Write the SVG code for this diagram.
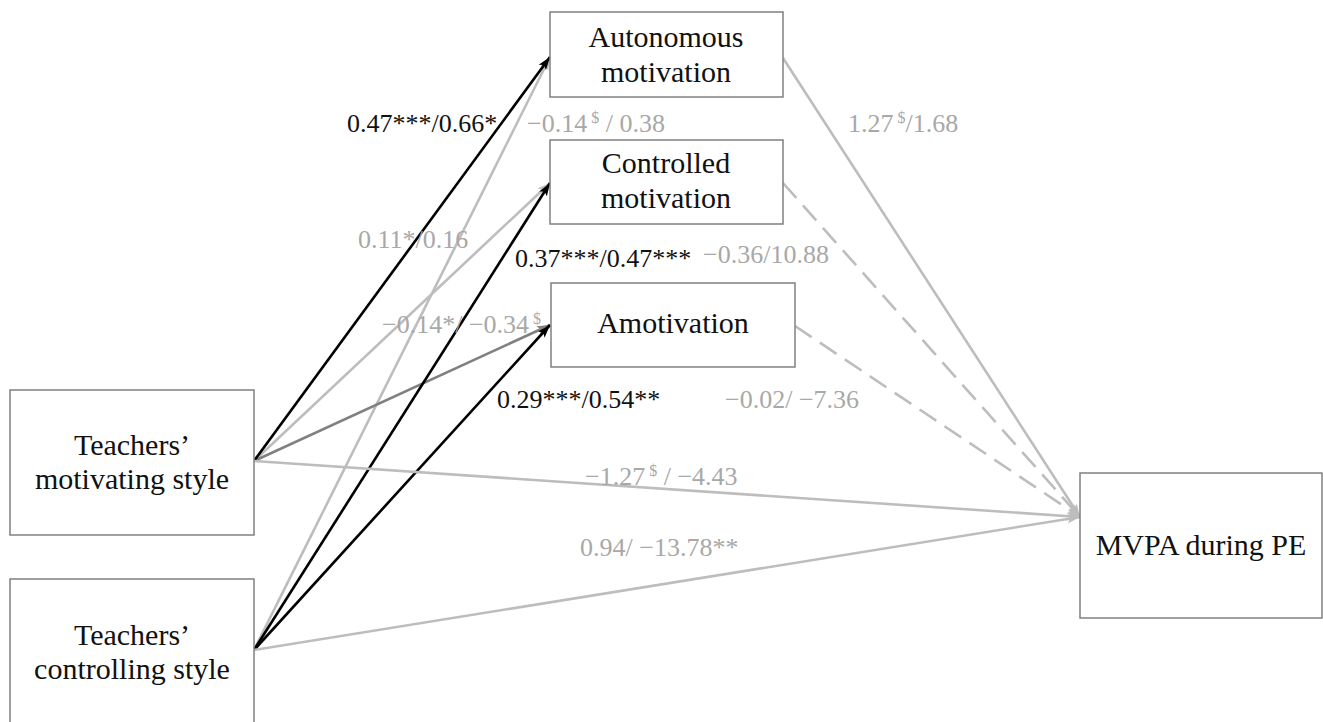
<svg xmlns="http://www.w3.org/2000/svg" width="1323" height="722" viewBox="0 0 1323 722">
<style>
.box{fill:#fff;stroke:#808080;stroke-width:1.5}
.nt{font-family:"Liberation Serif",serif;font-size:30px;fill:#111;text-anchor:middle}
.lb{font-family:"Liberation Serif",serif;font-size:26px}
.k{fill:#111}
.g{fill:#a8a8a8}
.sup{font-size:16px}
.lk{stroke:#000;stroke-width:2.6;fill:none}
.lg{stroke:#bdbdbd;stroke-width:2.6;fill:none}
.ld{stroke:#808080;stroke-width:2.6;fill:none}
.dash{stroke-dasharray:20 10}
</style>
<defs>
<marker id="ak" markerUnits="userSpaceOnUse" markerWidth="14" markerHeight="10" refX="13" refY="5" orient="auto"><path d="M0,0.5 L13,5 L0,9.5 L3,5 z" fill="#000"/></marker>
<marker id="ag" markerUnits="userSpaceOnUse" markerWidth="14" markerHeight="10" refX="13" refY="5" orient="auto"><path d="M0,0.5 L13,5 L0,9.5 L3,5 z" fill="#bdbdbd"/></marker>
<marker id="ad" markerUnits="userSpaceOnUse" markerWidth="14" markerHeight="10" refX="13" refY="5" orient="auto"><path d="M0,0.5 L13,5 L0,9.5 L3,5 z" fill="#808080"/></marker>
</defs>

<g id="connectors">
<line class="lg" x1="254" y1="650" x2="550" y2="57" marker-end="url(#ag)"/>
<line class="lg" x1="254" y1="461" x2="550" y2="183" marker-end="url(#ag)"/>
<line class="ld" x1="254" y1="461" x2="550" y2="325" marker-end="url(#ad)"/>
<line class="lk" x1="254" y1="461" x2="550" y2="57" marker-end="url(#ak)"/>
<line class="lk" x1="254" y1="650" x2="550" y2="183" marker-end="url(#ak)"/>
<line class="lk" x1="254" y1="650" x2="550" y2="325" marker-end="url(#ak)"/>
<line class="lg" x1="254" y1="461" x2="1080" y2="517" marker-end="url(#ag)"/>
<line class="lg" x1="254" y1="650" x2="1080" y2="517" marker-end="url(#ag)"/>
<line class="lg" x1="783" y1="58" x2="1080" y2="517" marker-end="url(#ag)"/>
<line class="lg dash" x1="783" y1="183" x2="1080" y2="517" marker-end="url(#ag)"/>
<line class="lg dash" x1="795" y1="326" x2="1080" y2="517" marker-end="url(#ag)"/>
</g>

<g id="labels">
<text class="lb k" x="347" y="132">0.47***/0.66*</text>
<text class="lb g" x="527" y="132">−0.14<tspan class="sup" dy="-9"> $</tspan><tspan dy="9"> / 0.38</tspan></text>
<text class="lb g" x="848" y="132">1.27<tspan class="sup" dy="-9"> $</tspan><tspan dy="9">/1.68</tspan></text>
<text class="lb g" x="358" y="248">0.11*/0.16</text>
<text class="lb k" x="515" y="267">0.37***/0.47***</text>
<text class="lb g" x="703" y="263">−0.36/10.88</text>
<text class="lb g" x="382" y="333">−0.14*/ −0.34<tspan class="sup" dy="-9"> $</tspan></text>
<text class="lb k" x="497" y="408">0.29***/0.54**</text>
<text class="lb g" x="725" y="408">−0.02/ −7.36</text>
<text class="lb g" x="585" y="485">−1.27<tspan class="sup" dy="-9"> $</tspan><tspan dy="9"> / −4.43</tspan></text>
<text class="lb g" x="580" y="556">0.94/ −13.78**</text>
</g>

<g id="autonomous">
<rect class="box" x="550" y="12" width="233" height="85"/>
<text class="nt" x="666" y="47">Autonomous</text>
<text class="nt" x="666" y="82">motivation</text>
</g>
<g id="controlled">
<rect class="box" x="550" y="140" width="233" height="84"/>
<text class="nt" x="666" y="173">Controlled</text>
<text class="nt" x="666" y="208">motivation</text>
</g>
<g id="amotivation">
<rect class="box" x="551" y="283" width="244" height="84"/>
<text class="nt" x="673" y="333">Amotivation</text>
</g>
<g id="motivating">
<rect class="box" x="10" y="390" width="244" height="145"/>
<text class="nt" x="132" y="455">Teachers’</text>
<text class="nt" x="132" y="489">motivating style</text>
</g>
<g id="controlling">
<rect class="box" x="10" y="579" width="244" height="150"/>
<text class="nt" x="132" y="645">Teachers’</text>
<text class="nt" x="132" y="679">controlling style</text>
</g>
<g id="mvpa">
<rect class="box" x="1080" y="473" width="242" height="145"/>
<text class="nt" x="1201" y="555">MVPA during PE</text>
</g>
</svg>
